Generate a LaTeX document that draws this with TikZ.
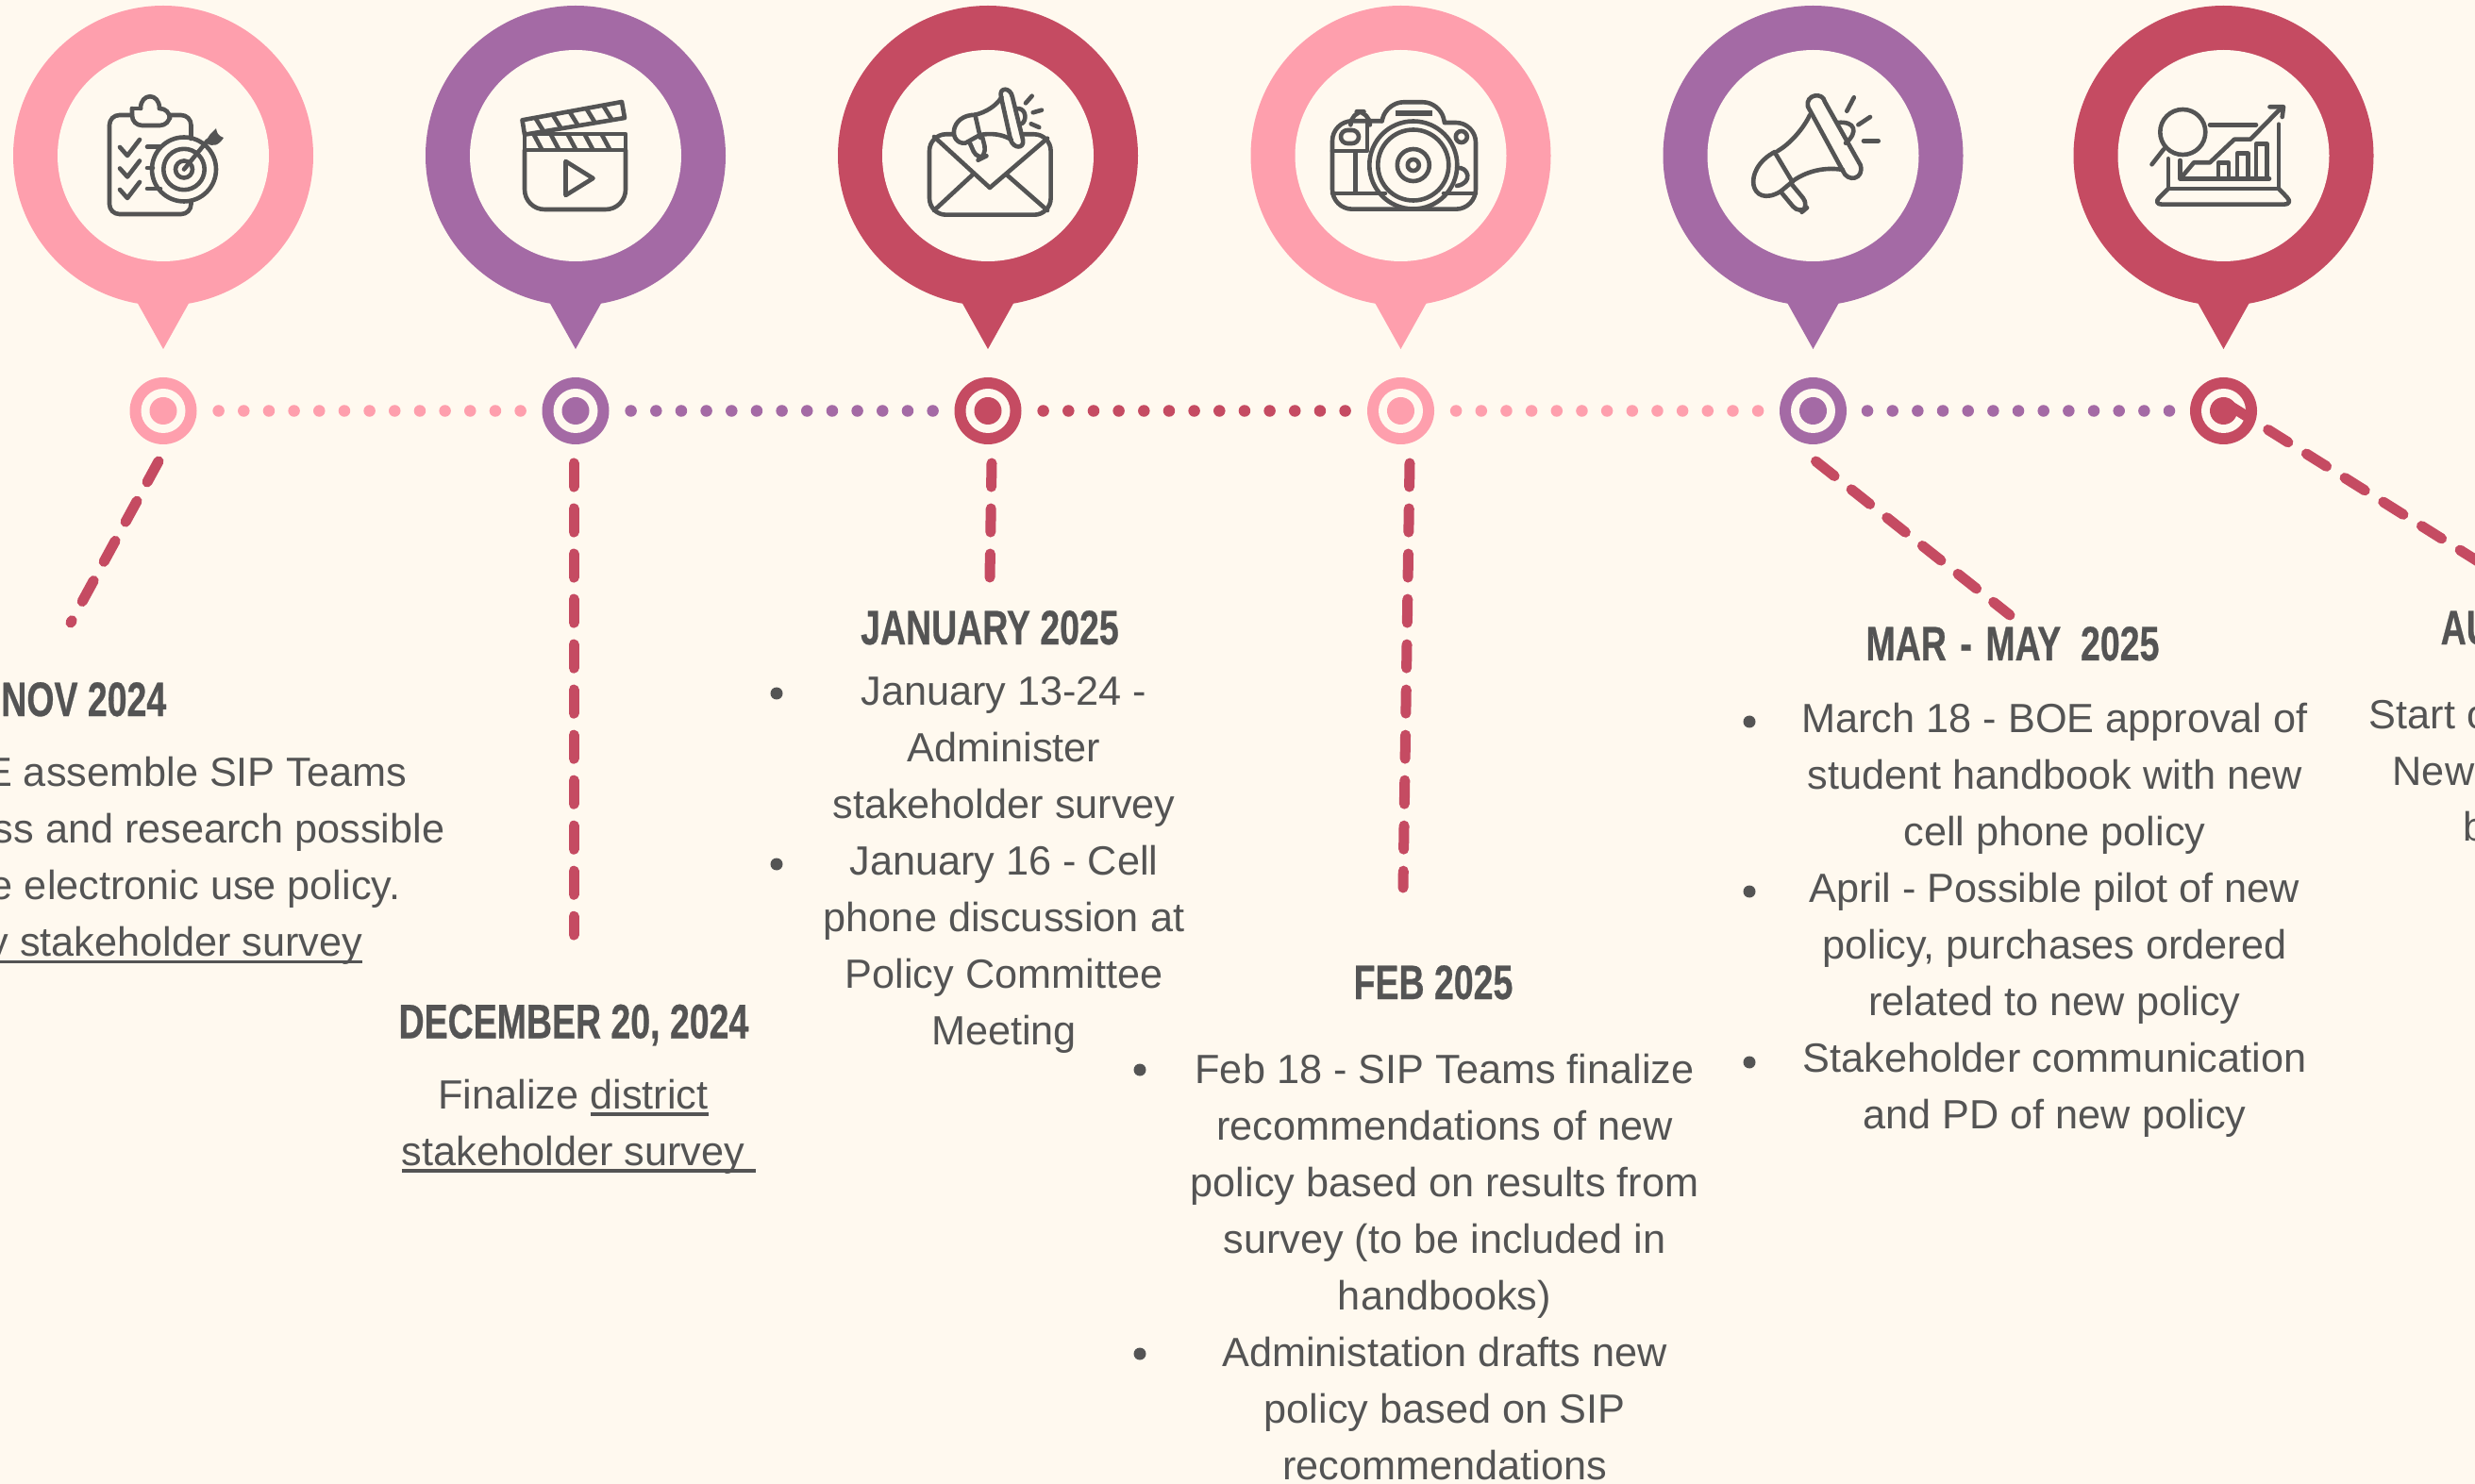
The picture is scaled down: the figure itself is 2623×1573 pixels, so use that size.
\documentclass[tikz,border=0pt]{standalone}
\usepackage{xcolor}
\usepackage{fontspec}
\setmainfont{Liberation Sans}
\newfontfamily\headfont[FakeStretch=0.73,FakeBold=0.5]{Liberation Sans Bold}
\newlength{\linklen}
\newcommand{\linktext}[1]{\settowidth{\linklen}{#1}\leavevmode\rlap{\rule[-2.2pt]{\linklen}{1.05pt}}#1}
\definecolor{paper-cream}{HTML}{FFF9EF}
\definecolor{pin-pink}{HTML}{FE9FAD}
\definecolor{pin-purple}{HTML}{A46AA5}
\definecolor{pin-crimson}{HTML}{C54B62}
\definecolor{ink-grey}{HTML}{545454}
\usepackage{tikz}
\tikzset{
  headtext/.style={text=ink-grey, inner sep=0pt, anchor=base, font=\headfont\fontsize{14.6}{17}\selectfont},
  bodytext/.style={text=ink-grey, inner sep=0pt, align=center, font=\fontsize{12.3}{17.07}\selectfont},
  linetext/.style={text=ink-grey, inner sep=0pt, font=\fontsize{12.3}{17.07}\selectfont},
  dotlink/.style={line width=.125cm, line cap=round, dash pattern=on 0pt off .2665cm},
  dashlink/.style={pin-crimson, line width=.11cm, line cap=round, dash pattern=on .25cm off .23cm},
  iconline/.style={ink-grey, line width=.046cm, line cap=round, line join=round}
}

\begin{document}
\begin{tikzpicture}[x=.01cm, y=-.01cm]

    % Background
    \fill[paper-cream] (0, 0) rectangle (2623, 1573);
    \useasboundingbox (0, 0) rectangle (2623, 1573);

    % Pins
    \fill[pin-pink] (173, 165) circle (159);
    \fill[pin-pink] (144, 318) -- (173, 370) -- (202, 318) -- cycle;
    \fill[paper-cream] (173, 165) circle (112);

    \fill[pin-purple] (610, 165) circle (159);
    \fill[pin-purple] (581, 318) -- (610, 370) -- (639, 318) -- cycle;
    \fill[paper-cream] (610, 165) circle (112);

    \fill[pin-crimson] (1047, 165) circle (159);
    \fill[pin-crimson] (1018, 318) -- (1047, 370) -- (1076, 318) -- cycle;
    \fill[paper-cream] (1047, 165) circle (112);

    \fill[pin-pink] (1484.5, 165) circle (159);
    \fill[pin-pink] (1455.5, 318) -- (1484.5, 370) -- (1513.5, 318) -- cycle;
    \fill[paper-cream] (1484.5, 165) circle (112);

    \fill[pin-purple] (1921.5, 165) circle (159);
    \fill[pin-purple] (1892.5, 318) -- (1921.5, 370) -- (1950.5, 318) -- cycle;
    \fill[paper-cream] (1921.5, 165) circle (112);

    \fill[pin-crimson] (2356.5, 165) circle (159);
    \fill[pin-crimson] (2327.5, 318) -- (2356.5, 370) -- (2385.5, 318) -- cycle;
    \fill[paper-cream] (2356.5, 165) circle (112);

    % Rings
    \coordinate (ringA) at (173, 435.5);
    \coordinate (ringB) at (610, 435.5);
    \coordinate (ringC) at (1047, 435.5);
    \coordinate (ringD) at (1484.5, 435.5);
    \coordinate (ringE) at (1921.5, 435.5);
    \coordinate (ringF) at (2356.5, 435.5);

    \fill[pin-pink] (ringA) circle (35.5);
    \fill[paper-cream] (ringA) circle (23.5);
    \fill[pin-pink] (ringA) circle (14.5);
    \fill[pin-purple] (ringB) circle (35.5);
    \fill[paper-cream] (ringB) circle (23.5);
    \fill[pin-purple] (ringB) circle (14.5);
    \fill[pin-crimson] (ringC) circle (35.5);
    \fill[paper-cream] (ringC) circle (23.5);
    \fill[pin-crimson] (ringC) circle (14.5);
    \fill[pin-pink] (ringD) circle (35.5);
    \fill[paper-cream] (ringD) circle (23.5);
    \fill[pin-pink] (ringD) circle (14.5);
    \fill[pin-purple] (ringE) circle (35.5);
    \fill[paper-cream] (ringE) circle (23.5);
    \fill[pin-purple] (ringE) circle (14.5);
    \fill[pin-crimson] (ringF) circle (35.5);
    \fill[paper-cream] (ringF) circle (23.5);
    \fill[pin-crimson] (ringF) circle (14.5);

    % Dotted links
    \draw[dotlink, pin-pink] ([xshift=.586cm]ringA) -- ([xshift=-.58cm]ringB);
    \draw[dotlink, pin-purple] ([xshift=.586cm]ringB) -- ([xshift=-.58cm]ringC);
    \draw[dotlink, pin-crimson] ([xshift=.586cm]ringC) -- ([xshift=-.58cm]ringD);
    \draw[dotlink, pin-pink] ([xshift=.586cm]ringD) -- ([xshift=-.58cm]ringE);
    \draw[dotlink, pin-purple] ([xshift=.575cm]ringE) -- ([xshift=-.56cm]ringF);

    % Dashed links
    \coordinate (startA) at (168, 489);
    \coordinate (endA) at (75, 660);
    \coordinate (startB) at (608, 491);
    \coordinate (endB) at (608, 991);
    \coordinate (startC) at (1051, 491);
    \coordinate (endC) at (1049, 612);
    \coordinate (startD) at (1494, 491);
    \coordinate (endD) at (1487, 941);
    \coordinate (startE) at (1924.5, 489);
    \coordinate (endE) at (2130, 652);
    \coordinate (startF) at (2363, 430);
    \coordinate (endF) at (2650, 610);
    \draw[dashlink] (startA) -- (endA);
    \draw[dashlink] (startB) -- (endB);
    \draw[dashlink] (startC) -- (endC);
    \draw[dashlink] (startD) -- (endD);
    \draw[dashlink] (startE) -- (endE);
    \draw[dashlink] (startF) -- (endF);

    % Clipboard icon
    \draw[iconline, rounded corners=3] (202.5, 147) -- (202.5, 122) -- (180, 122);
    \draw[iconline, rounded corners=3] (140, 122) -- (116, 122) -- (116, 227) -- (202.5, 227) -- (202.5, 213);
    \draw[iconline, rounded corners=3] (140, 115) -- (140, 133) -- (180, 133) -- (180, 115) -- (169, 115);
    \draw[iconline, rounded corners=3] (140, 115) -- (149, 115);
    \draw[iconline] (149, 115) .. controls (149, 98) and (169, 98) .. (169, 115);
    \draw[iconline] (127, 156) -- (135, 165) -- (148, 148);
    \draw[iconline] (127, 178.5) -- (135, 187.5) -- (148, 170.5);
    \draw[iconline] (127, 201) -- (135, 210) -- (148, 193);
    \draw[iconline] (156, 155.7) -- (170, 155.7);
    \draw[iconline] (156, 178) -- (162, 178);
    \draw[iconline] (156, 200) -- (170, 200);
    \draw[iconline] (195, 179.5) circle (34);
    \draw[iconline] (195, 179.5) circle (21.7);
    \draw[iconline] (195, 179.5) circle (9);
    \draw[iconline] (195, 179.5) -- (220, 149);
    \fill[ink-grey] (219, 152) .. controls (219, 143) and (226, 140) .. (229, 136) .. controls (230, 141) and (231, 144) .. (237, 146) .. controls (232, 154) and (226, 156) .. (219, 152) -- cycle;

    % Clapper icon
    \draw[iconline] (556, 142) rectangle (663, 159);
    \draw[iconline, rounded corners=6] (556, 159) -- (556, 222) -- (663, 222) -- (663, 159);
    \draw[iconline] (553.5, 127.3) -- (659, 108) -- (662, 125) -- (556, 142.7) -- cycle;
    \draw[iconline] (566, 143) -- (574, 158);
    \draw[iconline] (584, 143) -- (592, 158);
    \draw[iconline] (602, 143) -- (610, 158);
    \draw[iconline] (620, 143) -- (628, 158);
    \draw[iconline] (638, 143) -- (646, 158);
    \draw[iconline] (568, 126) -- (576, 139);
    \draw[iconline] (586, 122) -- (594, 135);
    \draw[iconline] (604, 119) -- (612, 132);
    \draw[iconline] (622, 116) -- (630, 129);
    \draw[iconline] (640, 113) -- (648, 126);
    \draw[iconline] (599.5, 171) -- (628.5, 189) -- (599.5, 207) -- cycle;

    % Envelope icon
    \draw[iconline, rounded corners=5] (1010, 142.3) -- (985, 142.3) -- (985, 227.7) -- (1113.6, 227.7) -- (1113.6, 142.3) -- (1084, 142.3);
    \draw[iconline] (990, 145) -- (1049, 199) -- (1110, 146.7);
    \draw[iconline] (990, 223) -- (1031, 185);
    \draw[iconline] (1110, 223) -- (1066.6, 185);
    \draw[iconline] (1061, 103) .. controls (1058, 92) and (1071, 92) .. (1073, 103) -- (1084, 148) .. controls (1086, 158) and (1074, 158) .. (1071, 148) -- cycle;
    \draw[iconline] (1061.5, 103) .. controls (1056, 112) and (1045, 119) .. (1033.5, 121.7);
    \draw[iconline] (1071.7, 148) .. controls (1062, 142) and (1050, 141) .. (1038.6, 143);
    \draw[iconline] (1033.5, 121.7) .. controls (1006, 122) and (1005, 153) .. (1023, 151.7) -- (1038.6, 143);
    \draw[iconline] (1033.5, 122) -- (1039, 146);
    \draw[iconline, rounded corners=3] (1028, 152) -- (1036, 170) -- (1046, 165) -- (1041, 145);
    \draw[iconline] (1079.4, 115) .. controls (1088, 116) and (1088, 128) .. (1083, 131);
    \draw[iconline] (1087, 109.3) -- (1093.7, 101.7);
    \draw[iconline] (1094.7, 119.3) -- (1104, 116.7);
    \draw[iconline] (1092.7, 131.3) -- (1101.3, 135);

    % Camera icon
    \draw[iconline, rounded corners=6] (1464.6, 128.3) -- (1412, 128.3) -- (1412, 221.7) -- (1564, 221.7) -- (1564, 130) -- (1531, 130);
    \draw[iconline, rounded corners=5] (1464.6, 128.3) -- (1469.7, 108.3) -- (1525.8, 108.3) -- (1531, 130);
    \draw[iconline, rounded corners=4] (1431.4, 128) -- (1431.4, 118.3) -- (1451.8, 118.3) -- (1451.8, 128);
    \fill[ink-grey] (1479, 117) rectangle (1518, 123);
    \draw[iconline] (1497.8, 175) circle (46.5);
    \draw[iconline] (1497.8, 175) circle (37.5);
    \draw[iconline] (1497.8, 175) circle (17);
    \draw[iconline] (1497.8, 175) circle (6);
    \draw[iconline, rounded corners=2] (1421, 138) rectangle (1440, 152);
    \draw[iconline] (1548.8, 145) circle (6);
    \draw[iconline] (1412, 205) -- (1468, 205);
    \draw[iconline] (1530, 205) -- (1564, 205);
    \draw[iconline] (1436.5, 161) -- (1436.5, 204);
    \draw[iconline] (1412, 160) -- (1449, 160) -- (1449, 128);
    \draw[iconline] (1544, 178) .. controls (1556, 176) and (1562, 194) .. (1544, 197);

    % Megaphone icon
    \draw[iconline] (1916, 113) .. controls (1913, 100) and (1932, 97) .. (1934, 108) -- (1971.7, 175) .. controls (1976, 190) and (1958, 194) .. (1953, 181) -- cycle;
    \draw[iconline] (1918, 122) .. controls (1912, 135) and (1898, 152) .. (1884, 160);
    \draw[iconline] (1953, 180) .. controls (1930, 176) and (1910, 184) .. (1898.6, 193);
    \draw[iconline] (1881, 161.7) -- (1899.7, 193);
    \draw[iconline] (1881, 161) .. controls (1845, 180) and (1855, 222) .. (1887, 203) -- (1899, 193);
    \draw[iconline, rounded corners=3] (1887, 203) -- (1907, 227) -- (1917.6, 218) -- (1898.6, 195);
    \draw[iconline] (1947.5, 130) .. controls (1966, 128) and (1970, 140) .. (1956, 151.7);
    \draw[iconline] (1957.3, 117.7) -- (1964.8, 103.3);
    \draw[iconline] (1969.4, 132.3) -- (1982, 124);
    \draw[iconline] (1975, 149.3) -- (1990.7, 149.3);

    % Laptop icon
    \draw[iconline] (2313.3, 140) circle (24);
    \draw[iconline] (2293, 158.3) -- (2280.5, 174.3);
    \draw[iconline] (2342, 132.3) -- (2391, 132.3);
    \draw[iconline] (2313, 186.7) -- (2325, 172.3) -- (2342, 172.3) -- (2368, 147.7) -- (2385, 147.7) -- (2417, 115);
    \draw[iconline] (2405.5, 113.3) -- (2420, 113.3) -- (2418.7, 124);
    \draw[iconline] (2297.8, 168.3) -- (2297.8, 200) -- (2415, 200) -- (2415, 131.7);
    \draw[iconline, rounded corners=3] (2297.8, 200) -- (2281, 216.7) -- (2431, 216.7) -- (2415, 200);
    \draw[iconline] (2310.4, 170) -- (2310.4, 189.3) -- (2405, 189.3);
    \draw[iconline] (2351, 189) -- (2351, 172.7) -- (2362, 172.7) -- (2362, 189);
    \draw[iconline] (2371, 189) -- (2371, 162.7) -- (2382.4, 162.7) -- (2382.4, 189);
    \draw[iconline] (2391, 189) -- (2391, 152.7) -- (2402.6, 152.7) -- (2402.6, 189);

    % Nov text
    \node[headtext, anchor=base east] (novHead) at (177, 759) {NOV 2024};
    \node[linetext, anchor=base east] (novLineA) at (432, 833.5) {E assemble SIP Teams};
    \node[linetext, anchor=base east] (novLineB) at (472, 893) {ss and research possible};
    \node[linetext, anchor=base east] (novLineC) at (425, 953.5) {e electronic use policy.};
    \node[linetext, anchor=base east] (novLineD) at (385, 1013.5) {\linktext{y stakeholder survey}};

    % Dec text
    \node[headtext] (decHead) at (608, 1100.5) {DECEMBER 20, 2024};
    \node[bodytext] (decBody) at (607.5, 1194) {Finalize \linktext{district}\\ \linktext{stakeholder survey\ }};

    % Jan text
    \node[headtext] (janHead) at (1049, 683) {JANUARY 2025};
    \node[bodytext] (janBody) at (1064, 916.5) {January 13-24 -\\ Administer\\ stakeholder survey\\ January 16 - Cell\\ phone discussion at\\ Policy Committee\\ Meeting};
    \fill[ink-grey] (823, 735) circle (6.5);
    \fill[ink-grey] (823, 916) circle (6.5);

    % Feb text
    \node[headtext] (febHead) at (1519, 1059) {FEB 2025};
    \node[bodytext] (febBody) at (1531, 1343) {Feb 18 - SIP Teams finalize\\ recommendations of new\\ policy based on results from\\ survey (to be included in\\ handbooks)\\ Administation drafts new\\ policy based on SIP\\ recommendations};
    \fill[ink-grey] (1208, 1134) circle (6.5);
    \fill[ink-grey] (1208, 1435) circle (6.5);

    % Mar text
    \node[headtext] (marHead) at (2133, 700) {MAR\hspace{.08em} - \hspace{.08em}MAY\ \ 2025};
    \node[bodytext] (marBody) at (2177.5, 975) {March 18 - BOE approval of\\ student handbook with new\\ cell phone policy\\ April - Possible pilot of new\\ policy, purchases ordered\\ related to new policy\\ Stakeholder communication\\ and PD of new policy};
    \fill[ink-grey] (1854, 765) circle (6.5);
    \fill[ink-grey] (1854, 945) circle (6.5);
    \fill[ink-grey] (1854, 1126) circle (6.5);

    % Aug text
    \node[headtext, anchor=base west] (augHead) at (2586, 683) {AU};
    \node[linetext, anchor=base west] (augLineA) at (2510, 772) {Start o};
    \node[linetext, anchor=base west] (augLineB) at (2535, 832) {New};
    \node[linetext, anchor=base west] (augLineC) at (2610, 891.4) {b};

\end{tikzpicture}
\end{document}
